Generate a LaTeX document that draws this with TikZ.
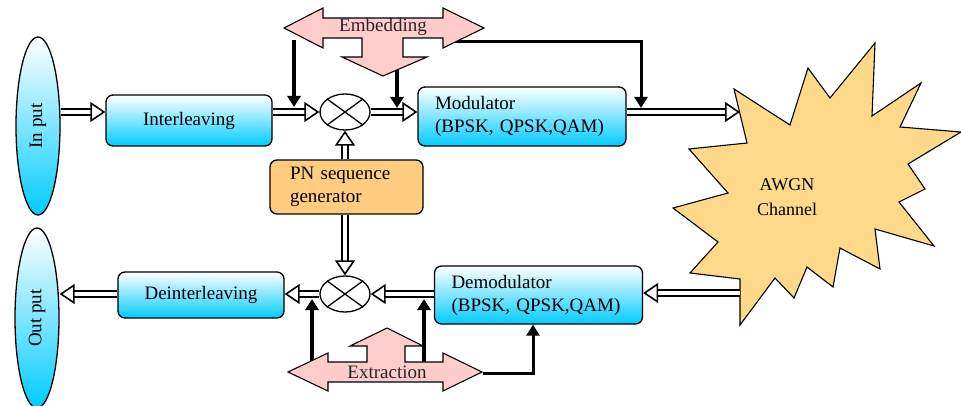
\documentclass[tikz,border=0pt]{standalone}
\usepackage{graphicx}
\usepackage{fontspec}
\setmainfont{Liberation Serif}
\usetikzlibrary{arrows.meta,shapes.geometric}
\definecolor{cyanb}{RGB}{0,204,255}
\definecolor{pnfill}{RGB}{255,204,128}
\definecolor{awgnfill}{RGB}{255,217,138}
\definecolor{pinkf}{RGB}{255,204,204}
\begin{document}
\begin{tikzpicture}[x=1pt,y=-1pt,
font=\fontsize{19}{23}\selectfont,
block/.style ={rectangle, draw, line width=1.3pt, rounded corners=7pt,
  top color=white, bottom color=cyanb,
  minimum width=166pt, minimum height=51pt
},
twoline/.style ={block, text width=174pt, inner xsep=17pt, align=left,
  minimum height=59pt
},
term/.style ={ellipse, draw, line width=1.3pt, top color=white, bottom color=cyanb,
  minimum width=44pt, minimum height=178pt, inner sep=0pt
},
mixer/.style ={ellipse, draw, line width=1.3pt, fill=white,
  minimum width=50pt, minimum height=36pt, inner sep=0pt
},
pnbox/.style ={rectangle, draw, line width=1.3pt, rounded corners=7pt, fill=pnfill,
  text width=113pt, inner xsep=20pt, align=left, minimum height=54pt
},
dbl/.style ={double, double distance=4.5pt, line width=1.6pt,
  -{Triangle[open,length=15pt,width=20pt]}
},
thk/.style ={line width=4pt, -{Triangle[length=11pt,width=13pt]}},
flag/.style ={draw, line width=1.1pt, fill=pinkf},
lbl/.style ={text=black!85}]
\useasboundingbox (0,0) rectangle (961,406);
% blocks
\node (inp) at (38,126) [term] {\rotatebox{90}{In put}};
\node (outp) at (37,318) [term, minimum height=180pt] {\rotatebox{90}{Out put}};
\node (intl) at (189,120.5) [block] {Interleaving};
\node (m1) at (345,112) [mixer] {};
\node (mod) at (522,116.5) [twoline] {Modulator\\(BPSK, QPSK,QAM)};
\node (pn) at (346.5,187) [pnbox] {PN sequence\\generator};
\node (m2) at (345,294) [mixer] {};
\node (demod) at (538.5,295) [twoline, minimum height=58pt] {Demodulator\\(BPSK, QPSK,QAM)};
\node (deintl) at (201,295) [block, minimum height=46pt] {Deinterleaving};
\foreach \m in {m1,m2}
  \draw[line width=1.3pt] (\m.north west) -- (\m.south east)
    (\m.north east) -- (\m.south west);
% channel
\draw[line width=1.1pt, fill=awgnfill] (875,43) -- (872,116) -- (921,83) -- (900,127)
  -- (961,132) -- (908,164) -- (925,189) -- (899,202) -- (934,246) -- (875,229)
  -- (880,269) -- (840,248) -- (833,287) -- (807,267) -- (794,298) -- (775,278)
  -- (740,325) -- (740,279) -- (690,273) -- (718,242) -- (673,208) -- (728,193)
  -- (689,149) -- (747,143) -- (734,89) -- (790,125) -- (808,68) -- (830,98) -- cycle;
\node (awgn) at (787,197) [align=center, font=\fontsize{18}{25}\selectfont] {AWGN\\Channel};
\coordinate (awgnin) at (740,112);
\coordinate (awgnout) at (740,293);
% signal path
\draw[dbl] (inp.east |- m1) -- (intl.west |- m1);
\draw[dbl] (intl.east |- m1) -- (m1.west);
\draw[dbl] (m1.east) -- (mod.west |- m1);
\draw[dbl] (mod.east |- m1) -- (awgnin);
\draw[dbl] (pn.north -| m1) -- (m1.south);
\draw[dbl] (pn.south -| m2) -- (m2.north);
\draw[dbl] (awgnout) -- (demod.east |- awgnout);
\draw[dbl] (demod.west |- m2) -- (m2.east);
\draw[dbl] (m2.west) -- (deintl.east |- m2);
\draw[dbl] (deintl.west |- m2) -- (outp.east |- m2);
% embedding / extraction feeds
\coordinate (ea) at (294,40);
\coordinate (eb) at (397,60);
\coordinate (ec) at (453,42);
\coordinate (ed) at (641,0);
\draw[thk, shorten >=5pt] (ea) -- (ea |- m1);
\draw[thk, shorten >=4pt] (eb) -- (eb |- m1);
\draw[thk, line width=3pt, shorten >=4pt] (ec) -| (ed |- m1);
\coordinate (xa) at (312,362);
\coordinate (xb) at (424,362);
\coordinate (xc) at (483,373);
\coordinate (xd) at (533,0);
\draw[thk, shorten >=5pt] (xa) -- (xa |- m2);
\draw[thk, shorten >=5pt] (xb) -- (xb |- m2);
\draw[thk, line width=3pt] (xc) -| (xd |- demod.south);
\draw[flag] (284,28) -- (323,8) -- (323,18) -- (443,18) -- (443,8) -- (484,28)
  -- (443,48) -- (443,38) -- (403,38) -- (403,57) -- (427,57) -- (383,76)
  -- (342,57) -- (362,57) -- (362,38) -- (323,38) -- (323,48) -- cycle;
\node (emb) at (383,27) [lbl] {Embedding};
\draw[flag] (288,372) -- (328,353) -- (328,362) -- (367,362) -- (367,346) -- (350,346)
  -- (387,328) -- (423,346) -- (405,346) -- (405,362) -- (443,362) -- (443,353)
  -- (482,372) -- (443,391) -- (443,382) -- (328,382) -- (328,391) -- cycle;
\node (extr) at (387,372) [lbl] {Extraction};
\end{tikzpicture}
\end{document}
